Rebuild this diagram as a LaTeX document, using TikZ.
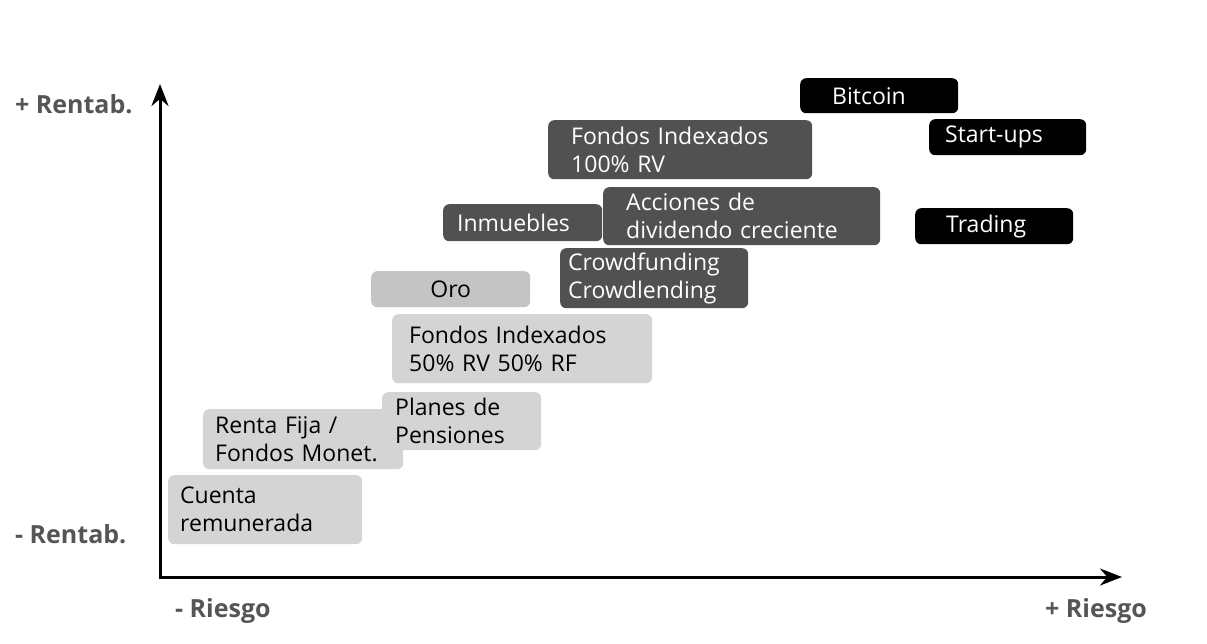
\documentclass[tikz,border=0pt]{standalone}
\usepackage{fontspec}
\setmainfont{Open Sans}
\usetikzlibrary{arrows.meta}
\definecolor{grisoscuro}{HTML}{515151}
\definecolor{grisclaro}{HTML}{D4D4D4}
\definecolor{grisoro}{HTML}{C4C4C4}
\definecolor{grisetiq}{HTML}{555555}

\begin{document}
\begin{tikzpicture}[
    x=1pt, y=-1pt,
    font=\fontsize{23}{28}\selectfont,
    caja/.style={rectangle, rounded corners=6pt, anchor=north west,
      inner xsep=12pt, inner ysep=0pt, align=left},
    claro/.style={caja, fill=grisclaro, text=black},
    oscuro/.style={caja, fill=grisoscuro, text=white},
    negro/.style={caja, fill=black, text=white},
    eje/.style={line width=3pt,
      {Stealth[length=22pt,width=17pt]}-{Stealth[length=22pt,width=17pt]}},
    etiq/.style={font=\fontsize{25}{28}\selectfont\bfseries, text=grisetiq,
      anchor=west, inner sep=0pt}
  ]
    \useasboundingbox (0,0) rectangle (1207,644);

    % ejes
    \coordinate (origen) at (160,577);
    \coordinate (finx) at (1122,577);
    \coordinate (finy) at (160,84);
    \draw[eje] (finy) -- (origen) -- (finx);

    \node[etiq] (masrent) at (15,104) {+ Rentab.};
    \node[etiq] (menosrent) at (15,534) {- Rentab.};
    \node[etiq] (menosriesgo) at (175,611) {- Riesgo};
    \node[etiq] (masriesgo) at (1045,611) {+ Riesgo};

    % poco riesgo
    \node[claro, minimum height=69pt, text width=170pt] (cuenta) at (168,475) {Cuenta\\remunerada};
    \node[claro, minimum height=60pt, text width=176pt] (rentafija) at (203,409) {Renta~Fija~/\\Fondos~Monet.};
    \node[claro, minimum height=58pt, inner xsep=13pt, text width=133pt] (planes) at (382,392) {Planes~de\\Pensiones};
    \node[claro, minimum height=69pt, inner xsep=17pt, text width=226pt] (fondos50) at (392,314) {Fondos~Indexados\\50\%~RV~50\%~RF};
    \node[claro, fill=grisoro, minimum height=36pt, text width=135pt, align=center] (oro) at (371,271) {Oro};

    % riesgo medio
    \node[oscuro, minimum height=60pt, inner xsep=8pt, text width=172pt] (crowd) at (560,248) {Crowdfunding\\Crowdlending};
    \node[oscuro, minimum height=37pt, inner xsep=14pt, text width=131pt] (inmuebles) at (443,204) {Inmuebles};
    \node[oscuro, minimum height=58pt, inner xsep=23pt, text width=231pt] (acciones) at (603,187) {Acciones~de\\dividendo~creciente};
    \node[oscuro, minimum height=59pt, inner xsep=23pt, text width=218pt] (fondos100) at (548,120) {Fondos~Indexados\\100\%~RV};

    % mucho riesgo
    \node[negro, minimum height=35pt, inner xsep=32pt, text width=94pt] (bitcoin) at (800,78) {Bitcoin};
    \node[negro, minimum height=36pt, inner xsep=16pt, text width=125pt] (startups) at (929,119) {Start-ups};
    \node[negro, minimum height=36pt, inner xsep=31pt, text width=96pt] (trading) at (915,208) {Trading};
  \end{tikzpicture}
\end{document}
